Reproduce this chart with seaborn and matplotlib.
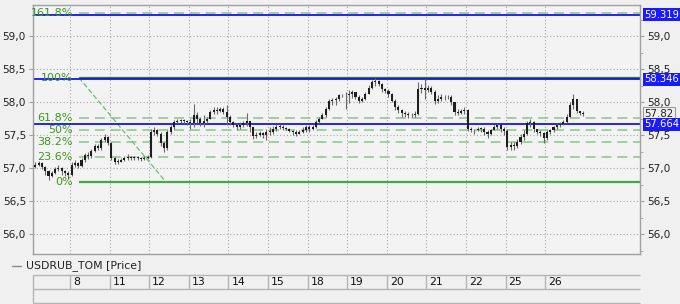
import matplotlib
matplotlib.use("Agg")
import matplotlib.pyplot as plt
from matplotlib.lines import Line2D
from matplotlib.ticker import FixedLocator
import numpy as np
import pandas as pd
import seaborn as sns

# ---------------- data ----------------
day_labels = ["8", "11", "12", "13", "14", "15", "18", "19", "20", "21", "22", "25", "26"]
bars_per_day = 12
first_day_bars = 11          # partial day before the 8th

first_open = 57.02
closes = [
    57.05, 57.08, 57.02, 56.95, 56.88, 56.92, 56.98, 57.00, 56.95, 56.92, 56.90,
    57.05, 57.08, 57.03, 57.12, 57.20, 57.18, 57.26, 57.33, 57.30, 57.42, 57.47, 57.38,
    57.15, 57.10, 57.10, 57.13, 57.15, 57.17, 57.15, 57.16, 57.15, 57.14, 57.15, 57.17,
    57.55, 57.57, 57.52, 57.38, 57.30, 57.55, 57.62, 57.70, 57.72, 57.71, 57.72, 57.70,
    57.68, 57.80, 57.75, 57.68, 57.72, 57.75, 57.85, 57.88, 57.87, 57.90, 57.85, 57.78,
    57.70, 57.65, 57.62, 57.66, 57.68, 57.72, 57.62, 57.48, 57.50, 57.53, 57.50, 57.55,
    57.55, 57.60, 57.62, 57.63, 57.61, 57.60, 57.56, 57.55, 57.52, 57.55, 57.58, 57.62,
    57.60, 57.62, 57.70, 57.75, 57.80, 57.90, 58.02, 58.03, 58.05, 58.10, 58.11, 58.10,
    58.12, 58.15, 58.08, 58.02, 58.05, 58.12, 58.22, 58.30, 58.32, 58.28, 58.20, 58.17,
    58.12, 58.02, 57.92, 57.88, 57.83, 57.82, 57.80, 57.80, 57.82, 58.20, 58.22, 58.18,
    58.22, 58.15, 58.02, 58.05, 58.08, 58.07, 58.08, 58.00, 57.85, 57.83, 57.87, 57.88,
    57.60, 57.58, 57.57, 57.60, 57.59, 57.55, 57.52, 57.58, 57.63, 57.65, 57.60, 57.56,
    57.32, 57.35, 57.34, 57.40, 57.47, 57.52, 57.68, 57.70, 57.60, 57.55, 57.53, 57.45,
    57.55, 57.57, 57.62, 57.65, 57.67, 57.70, 57.78, 57.95, 58.05, 57.87, 57.83, 57.82,
]
highs = [
    57.09, 57.11, 57.09, 57.03, 56.97, 56.95, 57.01, 57.04, 57.02, 56.97, 56.96,
    57.10, 57.12, 57.10, 57.15, 57.23, 57.24, 57.29, 57.37, 57.36, 57.45, 57.52, 57.48,
    57.40, 57.17, 57.14, 57.16, 57.18, 57.22, 57.19, 57.19, 57.18, 57.17, 57.18, 57.20,
    57.60, 57.62, 57.60, 57.54, 57.40, 57.58, 57.66, 57.73, 57.74, 57.74, 57.74, 57.73,
    57.74, 57.97, 57.85, 57.77, 57.80, 57.78, 57.88, 57.92, 57.92, 57.93, 57.92, 57.95,
    57.80, 57.72, 57.68, 57.70, 57.72, 57.84, 57.72, 57.62, 57.55, 57.56, 57.55, 57.60,
    57.62, 57.64, 57.67, 57.67, 57.65, 57.62, 57.61, 57.58, 57.57, 57.58, 57.62, 57.66,
    57.65, 57.66, 57.73, 57.78, 57.84, 57.93, 58.05, 58.06, 58.08, 58.13, 58.13, 58.15,
    58.18, 58.18, 58.16, 58.10, 58.08, 58.16, 58.26, 58.33, 58.37, 58.34, 58.29, 58.22,
    58.20, 58.14, 58.04, 57.95, 57.90, 57.86, 57.85, 57.84, 57.86, 58.30, 58.27, 58.35,
    58.26, 58.24, 58.18, 58.10, 58.12, 58.11, 58.10, 58.10, 57.98, 57.90, 57.90, 57.92,
    57.90, 57.63, 57.60, 57.62, 57.62, 57.62, 57.57, 57.60, 57.66, 57.69, 57.66, 57.62,
    57.60, 57.40, 57.40, 57.44, 57.52, 57.57, 57.72, 57.75, 57.72, 57.60, 57.58, 57.55,
    57.58, 57.60, 57.64, 57.68, 57.70, 57.73, 57.82, 58.00, 58.12, 58.05, 57.86, 57.86,
]
lows = [
    57.00, 57.03, 56.99, 56.90, 56.82, 56.86, 56.91, 56.95, 56.90, 56.88, 56.83,
    56.88, 57.02, 57.00, 57.01, 57.10, 57.14, 57.16, 57.24, 57.27, 57.28, 57.40, 57.35,
    57.13, 57.06, 57.07, 57.09, 57.11, 57.13, 57.12, 57.13, 57.12, 57.11, 57.12, 57.14,
    57.15, 57.50, 57.48, 57.33, 57.25, 57.28, 57.52, 57.60, 57.68, 57.68, 57.69, 57.65,
    57.60, 57.62, 57.68, 57.64, 57.63, 57.68, 57.74, 57.82, 57.82, 57.85, 57.82, 57.66,
    57.66, 57.62, 57.57, 57.60, 57.63, 57.64, 57.55, 57.44, 57.45, 57.49, 57.45, 57.42,
    57.50, 57.52, 57.56, 57.59, 57.58, 57.57, 57.54, 57.50, 57.49, 57.51, 57.53, 57.55,
    57.55, 57.58, 57.61, 57.69, 57.74, 57.78, 57.88, 57.96, 57.96, 58.02, 58.08, 57.90,
    57.98, 58.06, 58.04, 57.98, 58.00, 58.03, 58.12, 58.20, 58.25, 58.24, 58.16, 58.14,
    58.08, 58.00, 57.88, 57.84, 57.78, 57.78, 57.76, 57.77, 57.78, 57.80, 58.14, 58.05,
    58.15, 58.12, 57.97, 57.98, 58.02, 58.03, 58.05, 57.95, 57.80, 57.80, 57.82, 57.82,
    57.56, 57.54, 57.52, 57.56, 57.55, 57.50, 57.46, 57.50, 57.57, 57.60, 57.55, 57.50,
    57.28, 57.28, 57.28, 57.31, 57.37, 57.43, 57.50, 57.62, 57.55, 57.52, 57.49, 57.38,
    57.42, 57.52, 57.55, 57.60, 57.62, 57.65, 57.68, 57.77, 57.90, 57.84, 57.80, 57.79,
]
opens = [first_open] + closes[:-1]

# Fibonacci tool anchors (bar index, price)
fib_anchor_x = [13.2, 39.6]
fib_anchor_y = [58.37, 56.79]
fib_ratios = [0.0, 0.236, 0.382, 0.5, 0.618, 1.0, 1.618]
fib_labels = ["0%", "23.6%", "38.2%", "50%", "61.8%", "100%", "161.8%"]

# horizontal price levels (blue)
level_values = [59.319, 58.346, 57.664]
level_labels = ["59.319", "58.346", "57.664"]

y_ticks = [56.0, 56.5, 57.0, 57.5, 58.0, 58.5, 59.0]

# ---------------- style ----------------
sns.set_style("white")
plt.rcParams["font.family"] = ["DejaVu Sans"]
BG = "#f0f0f0"
GRID = "#a8a8a8"
FRAME = "#a0a0a0"
GREEN_TXT = "#3a9a1e"
GREEN_SOLID0 = "#45a845"
GREEN_SOLID1 = "#2a7d2a"
GREEN_DASH = "#8ccc8c"
BLUE = "#1414f0"

W, H = 680, 304
fig = plt.figure(figsize=(W / 100, H / 100), dpi=100, facecolor=BG)


def rect(x0, y0, x1, y1):
    return [x0 / W, 1 - y1 / H, (x1 - x0) / W, (y1 - y0) / H]


ax = fig.add_axes(rect(33, 5, 640, 254))
ax.set_facecolor("#f3f3f3")

n = len(closes)
df = pd.DataFrame({"i": np.arange(n), "open": opens, "high": highs,
                   "low": lows, "close": closes})
xmin, xmax = -0.7, 183.2
ax.set_xlim(xmin, xmax)
ax.set_ylim(55.70, 59.47)

# grid
boundaries = [first_day_bars - 0.5 + bars_per_day * k for k in range(len(day_labels))]
ax.set_xticks(boundaries)
ax.set_yticks(y_ticks)
ax.set_yticklabels([f"{v:.1f}".replace(".", ",") for v in y_ticks])
ax.grid(True, which="major", color=GRID, lw=0.8, ls=(0, (1, 2)))
ax.set_axisbelow(True)
ax.tick_params(axis="x", length=0, labelbottom=False)
ax.yaxis.set_ticks_position("both")
ax.tick_params(axis="y", which="major", labelleft=True, labelright=True,
               left=True, right=True, length=3, color=FRAME, pad=2,
               labelsize=7.6, labelcolor="#222222")
ax.yaxis.set_minor_locator(FixedLocator([55.75, 56.25, 56.75, 57.25, 57.75, 58.25, 58.75, 59.25]))
ax.tick_params(axis="y", which="minor", left=False, right=True, length=2, color=FRAME)
for s in ax.spines.values():
    s.set_color(FRAME)
    s.set_linewidth(1.0)

# fib levels
rng = fib_anchor_y[0] - fib_anchor_y[1]
for r, lab in zip(fib_ratios, fib_labels):
    lv = fib_anchor_y[1] + r * rng
    if r in (0.0, 1.0):
        ax.hlines(lv, fib_anchor_x[0], xmax, color=GREEN_SOLID0 if r == 0 else GREEN_SOLID1,
                  lw=1.6, zorder=2)
    else:
        ax.hlines(lv, fib_anchor_x[0], xmax, color=GREEN_DASH, lw=1.2,
                  linestyles=[(0, (6, 3.5))], zorder=2)
    ax.text(fib_anchor_x[0] - 1.8, lv, lab, ha="right", va="center",
            color=GREEN_TXT, fontsize=8, zorder=3)

sns.lineplot(x=fib_anchor_x, y=fib_anchor_y, ax=ax, color="#6cbf6c", lw=0.9,
             linestyle=(0, (4, 2)), zorder=2)

# blue levels
for v in level_values:
    ax.axhline(v, color=BLUE, lw=1.3, zorder=2)

# candles
ax.vlines(df["i"], df["low"], df["high"], color="#6a6a6a", lw=0.8, zorder=4)
bottom = np.minimum(df["open"], df["close"])
height = np.maximum(np.abs(df["close"] - df["open"]), 0.012)
ax.bar(df["i"], height, bottom=bottom, width=0.62, color="#1e1e1e", lw=0, zorder=5)

# right-side value labels
ytr = ax.get_yaxis_transform()
for v, lab in zip(level_values, level_labels):
    ax.text(1.007, v, lab, transform=ytr, ha="left", va="center", fontsize=7.2,
            color="white", clip_on=False, zorder=10,
            bbox=dict(boxstyle="square,pad=0.15", fc="#1a1aff", ec="none"))
ax.text(1.007, closes[-1], f"{closes[-1]:.2f}", transform=ytr, ha="left", va="center",
        fontsize=7.4, color="#222222", clip_on=False, zorder=9,
        bbox=dict(boxstyle="square,pad=0.15", fc="#f0f0f0", ec="#9a9a9a", lw=0.8))

# legend row
fig.add_artist(Line2D([12 / W, 21 / W], [1 - 266 / H] * 2, color="#8a8a8a", lw=1.0))
fig.text(26 / W, 1 - 266 / H, "USDRUB_TOM [Price]", ha="left", va="center",
         fontsize=7.8, color="#222222")

# date row
ax2 = fig.add_axes(rect(33, 275, 640, 303))
ax2.set_xlim(xmin, xmax)
ax2.set_ylim(2, 0)
ax2.axis("off")
ax2.hlines([0, 1, 2], xmin, xmax, color="#b4b4b4", lw=1.0, clip_on=False)
ax2.vlines(xmin, 0, 2, color="#b4b4b4", lw=1.0, clip_on=False)
ax2.vlines(boundaries, 0, 1, color="#b4b4b4", lw=1.0, clip_on=False)
for b, lab in zip(boundaries, day_labels):
    ax2.text(b + 0.9, 0.52, lab, ha="left", va="center", fontsize=7.8, color="#111111")

fig.savefig("out.png", dpi=100, facecolor=BG)
